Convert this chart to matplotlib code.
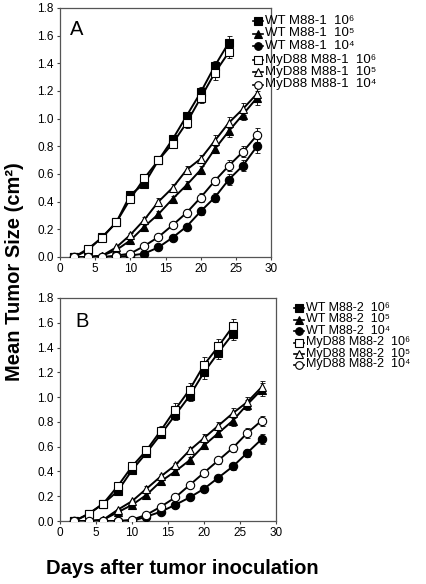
import numpy as np
import matplotlib
matplotlib.use("Agg")
import matplotlib.pyplot as plt
from matplotlib.lines import Line2D

plt.rcParams['font.family'] = ['Liberation Sans', 'DejaVu Sans']

# measurement days
days = [2, 4, 6, 8, 10, 12, 14, 16, 18, 20, 22, 24, 26, 28]
days_6 = days[:12]

# panel A (M88-1)
wt1_6 = [0, 0.05, 0.145, 0.25, 0.45, 0.53, 0.70, 0.85, 1.02, 1.19, 1.38, 1.55]
wt1_5 = [0, 0, 0.01, 0.05, 0.12, 0.22, 0.31, 0.42, 0.52, 0.63, 0.78, 0.91, 1.03, 1.15]
wt1_4 = [0, 0, 0, 0, 0.01, 0.025, 0.07, 0.14, 0.22, 0.33, 0.43, 0.56, 0.66, 0.80]
myd1_6 = [0, 0.06, 0.14, 0.25, 0.42, 0.57, 0.70, 0.82, 0.97, 1.15, 1.33, 1.48]
myd1_5 = [0, 0, 0.01, 0.07, 0.16, 0.27, 0.40, 0.50, 0.63, 0.71, 0.84, 0.97, 1.07, 1.18]
myd1_4 = [0, 0, 0, 0.01, 0.025, 0.08, 0.145, 0.23, 0.32, 0.43, 0.55, 0.66, 0.76, 0.88]

wt1_6_err = [0, 0, 0.01, 0.01, 0.02, 0.02, 0.02, 0.03, 0.03, 0.04, 0.04, 0.05]
wt1_5_err = [0, 0, 0, 0.01, 0.01, 0.02, 0.02, 0.02, 0.03, 0.03, 0.03, 0.04, 0.04, 0.05]
wt1_4_err = [0, 0, 0, 0, 0, 0.01, 0.01, 0.02, 0.02, 0.03, 0.03, 0.04, 0.04, 0.05]
myd1_6_err = [0, 0, 0.01, 0.01, 0.02, 0.02, 0.02, 0.03, 0.04, 0.04, 0.05, 0.04]
myd1_5_err = [0, 0, 0, 0.01, 0.01, 0.02, 0.03, 0.03, 0.03, 0.03, 0.04, 0.04, 0.04, 0.04]
myd1_4_err = [0, 0, 0, 0, 0.01, 0.01, 0.02, 0.02, 0.03, 0.03, 0.03, 0.04, 0.04, 0.05]

# panel B (M88-2)
wt2_6 = [0, 0.056, 0.14, 0.24, 0.41, 0.55, 0.70, 0.855, 1.01, 1.20, 1.36, 1.51]
wt2_5 = [0, 0, 0.01, 0.07, 0.13, 0.21, 0.32, 0.40, 0.49, 0.61, 0.71, 0.81, 0.94, 1.06]
wt2_4 = [0, 0, 0, 0, 0, 0.035, 0.075, 0.13, 0.19, 0.26, 0.35, 0.44, 0.55, 0.66]
myd2_6 = [0, 0.06, 0.14, 0.28, 0.44, 0.57, 0.73, 0.90, 1.06, 1.26, 1.41, 1.57]
myd2_5 = [0, 0, 0.01, 0.09, 0.16, 0.26, 0.36, 0.45, 0.57, 0.67, 0.77, 0.87, 0.96, 1.08]
myd2_4 = [0, 0, 0, 0, 0.01, 0.05, 0.115, 0.19, 0.29, 0.39, 0.49, 0.59, 0.71, 0.81]

wt2_6_err = [0, 0, 0.01, 0.02, 0.02, 0.03, 0.03, 0.04, 0.04, 0.05, 0.05, 0.05]
wt2_5_err = [0, 0, 0, 0.01, 0.01, 0.02, 0.02, 0.02, 0.03, 0.03, 0.03, 0.04, 0.04, 0.05]
wt2_4_err = [0, 0, 0, 0, 0, 0.01, 0.01, 0.01, 0.02, 0.02, 0.02, 0.03, 0.03, 0.04]
myd2_6_err = [0, 0, 0.01, 0.02, 0.02, 0.03, 0.04, 0.05, 0.05, 0.06, 0.06, 0.06]
myd2_5_err = [0, 0, 0, 0.01, 0.01, 0.02, 0.02, 0.02, 0.03, 0.03, 0.03, 0.04, 0.04, 0.05]
myd2_4_err = [0, 0, 0, 0, 0.01, 0.01, 0.01, 0.02, 0.02, 0.02, 0.03, 0.03, 0.04, 0.04]

labels_A = ['WT M88-1  10⁶', 'WT M88-1  10⁵', 'WT M88-1  10⁴',
            'MyD88 M88-1  10⁶', 'MyD88 M88-1  10⁵', 'MyD88 M88-1  10⁴']
labels_B = ['WT M88-2  10⁶', 'WT M88-2  10⁵', 'WT M88-2  10⁴',
            'MyD88 M88-2  10⁶', 'MyD88 M88-2  10⁵', 'MyD88 M88-2  10⁴']

styles = [('s', 'black'), ('^', 'black'), ('o', 'black'),
          ('s', 'white'), ('^', 'white'), ('o', 'white')]

W, H = 426, 584
fig = plt.figure(figsize=(W / 100, H / 100), dpi=100)
axA = fig.add_axes([60 / W, 1 - 257 / H, 211 / W, 249 / H])
axB = fig.add_axes([60 / W, 1 - 521 / H, 216 / W, 223 / H])


def draw_panel(ax, series, labels, letter, letter_pos, leg_x, leg_rows, leg_fs):
    for (x, y, e), (m, fc) in zip(series, styles):
        ax.errorbar(x, y, yerr=e, fmt='none', ecolor='black', elinewidth=0.6,
                    capsize=1.8, capthick=0.6, zorder=2)
        ax.plot(x, y, color='black', lw=1.4, marker=m, markersize=6,
                markerfacecolor=fc, markeredgecolor='black', markeredgewidth=0.8,
                zorder=3)
    ax.set_xlim(0, 30)
    ax.set_ylim(0, 1.8)
    ax.set_xticks(range(0, 31, 5))
    yt = np.arange(0, 1.81, 0.2)
    ax.set_yticks(yt)
    ax.set_yticklabels([f'{v:.1f}' for v in yt])
    ax.tick_params(direction='out', length=2.5, width=0.8, labelsize=8.5,
                   colors='#444444', labelcolor='black', pad=2)
    for s in ax.spines.values():
        s.set_color('#555555')
        s.set_linewidth(0.9)
    ax.text(letter_pos[0], letter_pos[1], letter, transform=ax.transAxes,
            fontsize=14.5, va='baseline', ha='left')
    # legend drawn row by row
    for (m, fc), lab, ry in zip(styles, labels, leg_rows):
        yf = 1 - ry / H
        fig.add_artist(Line2D([leg_x / W, (leg_x + 10) / W], [yf, yf],
                              transform=fig.transFigure, color='black', lw=1.2))
        fig.add_artist(Line2D([(leg_x + 5) / W], [yf], transform=fig.transFigure,
                              marker=m, markersize=5.5, markerfacecolor=fc,
                              markeredgecolor='black', markeredgewidth=0.8))
        fig.text((leg_x + 12) / W, yf, lab, fontsize=leg_fs, va='center', ha='left')


draw_panel(axA,
           [(days_6, wt1_6, wt1_6_err), (days, wt1_5, wt1_5_err), (days, wt1_4, wt1_4_err),
            (days_6, myd1_6, myd1_6_err), (days, myd1_5, myd1_5_err), (days, myd1_4, myd1_4_err)],
           labels_A, 'A', (0.047, 0.892), 253, [21, 33.5, 46, 59.5, 72, 84.5], 9.5)

draw_panel(axB,
           [(days_6, wt2_6, wt2_6_err), (days, wt2_5, wt2_5_err), (days, wt2_4, wt2_4_err),
            (days_6, myd2_6, myd2_6_err), (days, myd2_5, myd2_5_err), (days, myd2_4, myd2_4_err)],
           labels_B, 'B', (0.07, 0.87), 294, [308, 319.5, 331, 342.5, 353.5, 364.5], 9)

fig.text(15 / W, 1 - 272 / H, 'Mean Tumor Size (cm²)', rotation=90, fontsize=14.5,
         fontweight='bold', ha='center', va='center')
fig.text(182 / W, 1 - 568 / H, 'Days after tumor inoculation', fontsize=14.5,
         fontweight='bold', ha='center', va='center')

fig.savefig('out.png', dpi=100)
